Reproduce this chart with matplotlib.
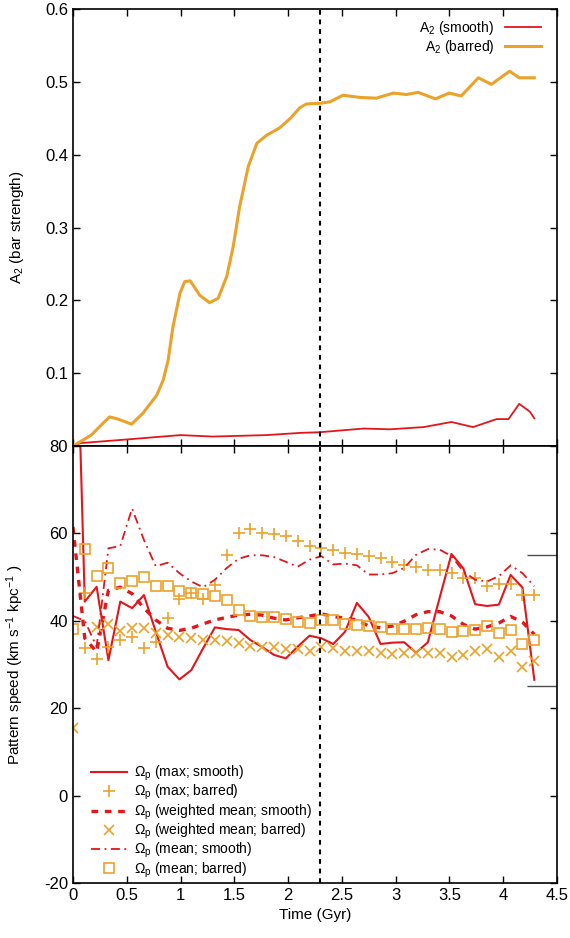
import numpy as np
import matplotlib.pyplot as plt

plt.rcParams['font.family'] = ['Liberation Sans', 'DejaVu Sans']
plt.rcParams['mathtext.fontset'] = 'custom'
plt.rcParams['mathtext.rm'] = 'Liberation Sans'
plt.rcParams['mathtext.it'] = 'Liberation Sans:italic'
plt.rcParams['axes.unicode_minus'] = False

RED = '#e3161b'
ORANGE = '#eba22b'

# ---- top panel: bar strength
a2_barred_t = [0, 0.17, 0.25, 0.34, 0.42, 0.545, 0.65, 0.78, 0.84, 0.885, 0.93, 0.995, 1.04,
               1.09, 1.18, 1.27, 1.35, 1.43, 1.49, 1.55, 1.63, 1.71, 1.80, 1.92, 2.02, 2.11,
               2.17, 2.30, 2.39, 2.51, 2.67, 2.82, 2.98, 3.10, 3.21, 3.37, 3.50, 3.61, 3.77,
               3.89, 4.06, 4.15, 4.22, 4.29]
a2_barred = [0, 0.015, 0.027, 0.040, 0.037, 0.030, 0.045, 0.070, 0.091, 0.118, 0.164, 0.210,
             0.226, 0.227, 0.207, 0.197, 0.203, 0.233, 0.274, 0.329, 0.384, 0.416, 0.427,
             0.437, 0.450, 0.465, 0.470, 0.471, 0.473, 0.482, 0.479, 0.478, 0.485, 0.483,
             0.486, 0.477, 0.485, 0.481, 0.506, 0.497, 0.515, 0.506, 0.506, 0.506]
a2_smooth_t = [0, 0.07, 0.5, 1.0, 1.3, 1.8, 2.11, 2.3, 2.70, 2.95, 3.26, 3.52, 3.72, 3.94,
               4.05, 4.15, 4.25, 4.29]
a2_smooth = [0, 0.004, 0.009, 0.015, 0.013, 0.015, 0.018, 0.019, 0.024, 0.023, 0.026, 0.033,
             0.026, 0.037, 0.037, 0.058, 0.047, 0.038]

# ---- bottom panel: pattern speed
time = [0.00, 0.11, 0.22, 0.33, 0.44, 0.55, 0.66, 0.77, 0.88, 0.99, 1.10, 1.21, 1.32, 1.43,
        1.54, 1.65, 1.76, 1.87, 1.98, 2.09, 2.20, 2.31, 2.42, 2.53, 2.64, 2.75, 2.86, 2.97,
        3.08, 3.19, 3.30, 3.41, 3.52, 3.63, 3.74, 3.85, 3.96, 4.07, 4.18, 4.29]
max_smooth = [140, 44.4, 47.8, 31.0, 44.4, 42.9, 45.9, 37.5, 29.5, 26.6, 28.7, 33.7, 38.5,
              38.1, 37.9, 35.6, 34.0, 32.2, 31.4, 34.1, 36.6, 36.0, 34.7, 37.5, 44.1, 40.9,
              34.7, 35.0, 35.1, 32.7, 35.1, 45.3, 55.3, 52.0, 43.8, 43.4, 43.7, 50.5, 47.6, 26.5]
max_barred_t = [0.11] + time[1:]
max_barred = [46.3, 33.7, 31.3, 34.1, 35.5, 36.2, 33.7, 35.2, 40.6, 45.1, 46.3, 45.1, 48.2,
              55.1, 60.2, 61.0, 60.1, 59.9, 59.5, 58.2, 57.1, 56.6, 56.2, 55.6, 55.3, 54.8,
              54.3, 53.5, 52.8, 52.4, 51.6, 51.6, 50.9, 49.9, 49.9, 48.0, 48.4, 48.4, 45.9, 45.9]
wmean_smooth = [61.5, 36.0, 32.9, 47.0, 47.7, 46.2, 42.9, 40.2, 38.3, 37.8, 38.3, 39.3, 40.2,
                40.8, 41.3, 41.5, 41.3, 40.6, 40.2, 40.7, 41.1, 41.6, 41.0, 40.6, 40.2, 38.8,
                38.4, 38.8, 39.9, 41.4, 42.1, 42.1, 41.1, 39.2, 38.1, 38.6, 39.5, 41.0, 39.7, 36.9]
wmean_barred = [15.4, np.nan, 38.5, 39.3, 37.7, 38.3, 38.3, 37.2, 36.8, 36.4, 36.0, 35.6, 35.6,
                35.3, 34.9, 34.3, 34.0, 34.0, 33.5, 33.5, 33.2, 34.0, 33.7, 33.2, 33.2, 33.0,
                32.7, 32.4, 32.6, 32.6, 32.6, 32.6, 31.8, 32.2, 33.0, 33.5, 31.8, 33.2, 29.5, 30.9]
mean_smooth = [41.1, 40.0, 34.1, 56.6, 57.1, 65.7, 58.5, 52.5, 53.3, 50.9, 49.0, 47.7, 49.4,
               52.1, 54.2, 55.0, 55.0, 54.6, 53.5, 52.4, 54.0, 54.8, 52.9, 53.1, 52.7, 50.6,
               50.6, 50.9, 52.1, 55.1, 56.4, 56.3, 54.8, 51.3, 49.4, 49.0, 50.2, 52.7, 50.9, 47.9]
mean_barred = [38.1, 56.4, 50.3, 52.0, 48.7, 49.2, 50.1, 48.0, 47.9, 46.9, 46.3, 46.2, 45.7,
               44.7, 42.5, 41.1, 40.9, 40.8, 40.4, 39.8, 39.6, 40.1, 40.1, 39.2, 39.1, 38.9,
               38.5, 38.2, 38.2, 38.2, 38.3, 38.2, 37.4, 37.6, 38.0, 38.9, 37.2, 37.8, 34.8, 35.7]
ref_levels = [55, 25]
t_event = 2.3

xticks = [0, 0.5, 1, 1.5, 2, 2.5, 3, 3.5, 4, 4.5]
xticklabels = ['0', '0.5', '1', '1.5', '2', '2.5', '3', '3.5', '4', '4.5']

fig = plt.figure(figsize=(5.7, 9.38), dpi=100)
ax1 = fig.add_axes([0.128, 0.5245, 0.849, 0.4655])
ax2 = fig.add_axes([0.128, 0.0586, 0.849, 0.4659])

ax1.plot(a2_smooth_t, a2_smooth, color=RED, lw=1.3, label='A$_2$ (smooth)')
ax1.plot(a2_barred_t, a2_barred, color=ORANGE, lw=2.2, label='A$_2$ (barred)')
ax1.axvline(t_event, color='black', lw=1.5, dashes=(2.3, 2.3))
ax1.set_xlim(0, 4.5)
ax1.set_ylim(0, 0.6)
ax1.set_xticks(xticks)
ax1.set_xticklabels([])
ax1.set_yticks([0, 0.1, 0.2, 0.3, 0.4, 0.5, 0.6])
ax1.set_yticklabels(['', '0.1', '0.2', '0.3', '0.4', '0.5', '0.6'])
ax1.set_ylabel('A$_2$ (bar strength)', fontsize=11)
ax1.legend(loc='upper right', bbox_to_anchor=(0.988, 1.0), frameon=False, markerfirst=False,
           fontsize=10, handlelength=2.6, handletextpad=0.8, labelspacing=0.05,
           borderaxespad=0.3)

ax2.plot(time, max_smooth, color=RED, lw=1.5, label='Ω$_{\\rm p}$ (max; smooth)')
ax2.plot(max_barred_t, max_barred, ls='none', marker='+', ms=8, mew=1.2, color=ORANGE,
         label='Ω$_{\\rm p}$ (max; barred)')
ax2.plot(time, wmean_smooth, color=RED, lw=2.4, dashes=(2, 2),
         label='Ω$_{\\rm p}$ (weighted mean; smooth)')
ax2.plot(time, wmean_barred, ls='none', marker='x', ms=7.5, mew=1.2, color=ORANGE,
         label='Ω$_{\\rm p}$ (weighted mean; barred)')
ax2.plot(time, mean_smooth, color=RED, lw=1.3, dashes=(5, 2.5, 1, 2.5),
         label='Ω$_{\\rm p}$ (mean; smooth)')
ax2.plot(time, mean_barred, ls='none', marker='s', ms=6.5, mew=1.2, mfc='none', mec=ORANGE,
         label='Ω$_{\\rm p}$ (mean; barred)')
ax2.hlines(ref_levels, 4.22, 4.5, color='0.3', lw=1)
ax2.axvline(t_event, color='black', lw=1.5, dashes=(2.3, 2.3))
ax2.set_xlim(0, 4.5)
ax2.set_ylim(-20, 80)
ax2.set_xticks(xticks)
ax2.set_xticklabels(xticklabels)
ax2.set_yticks([-20, 0, 20, 40, 60, 80])
ax2.set_xlabel('Time (Gyr)', fontsize=11)
ax2.set_ylabel('Pattern speed (km s$^{-1}$ kpc$^{-1}$ )', fontsize=11)
ax2.legend(loc='lower left', bbox_to_anchor=(0.025, -0.005), frameon=False, fontsize=10,
           handlelength=2.6, handletextpad=0.55, labelspacing=0.0, borderaxespad=0)

for ax in (ax1, ax2):
    ax.tick_params(direction='in', top=True, right=True, length=5, width=1, labelsize=12)
    for s in ax.spines.values():
        s.set_linewidth(1.2)
    ax.yaxis.set_label_coords(-0.097, 0.5)

fig.savefig('out.png', dpi=100)
